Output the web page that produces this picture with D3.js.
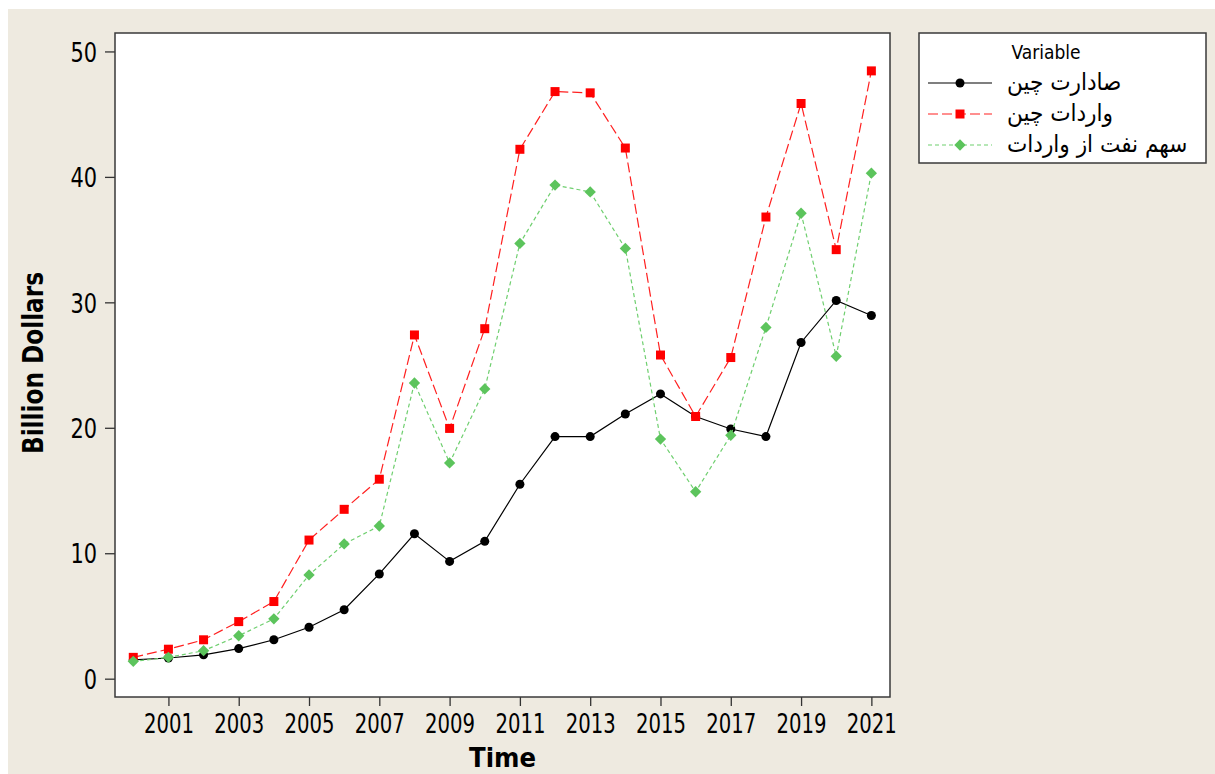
<!DOCTYPE html>
<html lang="en">

<head>
    <meta charset="UTF-8">
    <title>China trade</title>
    <script src="https://d3js.org/d3.v7.min.js"></script>
    <style>
        body { margin: 0; background: #ffffff; }
        text { font-family: "DejaVu Sans Condensed", "DejaVu Sans", sans-serif; fill: #000; }
    </style>
</head>

<body>
    <script>
        let width = 1215;
        let height = 774;

        // data (billion dollars)
        let years = [2000, 2001, 2002, 2003, 2004, 2005, 2006, 2007, 2008, 2009, 2010,
            2011, 2012, 2013, 2014, 2015, 2016, 2017, 2018, 2019, 2020, 2021];
        let exportsChina = [1.5, 1.65, 1.9, 2.4, 3.1, 4.1, 5.5, 8.35, 11.55, 9.35, 10.95,
            15.5, 19.3, 19.3, 21.1, 22.7, 20.9, 19.9, 19.3, 26.8, 30.15, 28.95];
        let importsChina = [1.7, 2.35, 3.1, 4.55, 6.15, 11.05, 13.5, 15.9, 27.4, 19.95, 27.9,
            42.2, 46.8, 46.7, 42.3, 25.8, 20.9, 25.6, 36.8, 45.85, 34.2, 48.45];
        let oilShare = [1.38, 1.7, 2.23, 3.42, 4.77, 8.27, 10.74, 12.17, 23.57, 17.2, 23.1,
            34.7, 39.35, 38.8, 34.3, 19.1, 14.9, 19.4, 28.0, 37.1, 25.7, 40.3];
        let xTicks = [2001, 2003, 2005, 2007, 2009, 2011, 2013, 2015, 2017, 2019, 2021];
        let yTicks = [0, 10, 20, 30, 40, 50];
        let seriesNames = ["صادارت چین", "واردات چین", "سهم نفت از واردات"];

        let svg = d3.select("body")
            .append("svg")
            .attr("width", width)
            .attr("height", height);

        // page background with white strip on top / left
        svg.append("rect").attr("width", width).attr("height", height).attr("fill", "#ffffff");
        svg.append("rect").attr("x", 8).attr("y", 9).attr("width", width - 8).attr("height", height - 9)
            .attr("fill", "#eeeae0");

        let pL = 115, pR = 890, pT = 33, pB = 697;

        let x = d3.scaleLinear().domain([1999.48, 2021.53]).range([pL, pR]);
        let y = d3.scaleLinear().domain([-1.46, 51.47]).range([pB, pT]);

        // plot area
        svg.append("rect")
            .attr("x", pL).attr("y", pT)
            .attr("width", pR - pL).attr("height", pB - pT)
            .attr("fill", "#ffffff");

        // axes
        let xAxis = svg.append("g")
            .attr("transform", `translate(0,${pB})`)
            .call(d3.axisBottom(x).tickValues(xTicks).tickFormat(d3.format("d")).tickSize(9).tickSizeOuter(0));
        xAxis.select(".domain").remove();
        xAxis.selectAll("line").attr("stroke", "#333").attr("stroke-width", 1.3);
        xAxis.selectAll("text")
            .attr("y", 36).attr("dy", null)
            .attr("font-size", 27)
            .attr("textLength", 50)
            .attr("lengthAdjust", "spacingAndGlyphs")
            .attr("fill", "#000");

        let yAxis = svg.append("g")
            .attr("transform", `translate(${pL},0)`)
            .call(d3.axisLeft(y).tickValues(yTicks).tickSize(10).tickSizeOuter(0));
        yAxis.select(".domain").remove();
        yAxis.selectAll("line").attr("stroke", "#333").attr("stroke-width", 1.3);
        yAxis.selectAll("text")
            .attr("x", -18).attr("dy", "0.36em")
            .attr("font-size", 27)
            .attr("textLength", d => String(d).length * 13.3)
            .attr("lengthAdjust", "spacingAndGlyphs")
            .attr("fill", "#000");

        // frame
        svg.append("rect")
            .attr("x", pL).attr("y", pT)
            .attr("width", pR - pL).attr("height", pB - pT)
            .attr("fill", "none")
            .attr("stroke", "#3a3a3a")
            .attr("stroke-width", 1.5);

        // axis titles
        svg.append("text")
            .attr("x", (pL + pR) / 2).attr("y", 767)
            .attr("text-anchor", "middle")
            .attr("font-size", 26).attr("font-weight", "bold")
            .attr("textLength", 67).attr("lengthAdjust", "spacingAndGlyphs")
            .text("Time");

        svg.append("text")
            .attr("transform", "translate(43,363) rotate(-90)")
            .attr("text-anchor", "middle")
            .attr("font-size", 28).attr("font-weight", "bold")
            .attr("textLength", 182).attr("lengthAdjust", "spacingAndGlyphs")
            .text("Billion Dollars");

        let series = [
            { name: seriesNames[0], values: exportsChina, color: "#000000", line: "#000000", dash: null, shape: d3.symbolCircle, size: 64, rot: 0 },
            { name: seriesNames[1], values: importsChina, color: "#ff0000", line: "#ff2020", dash: "10,4", shape: d3.symbolSquare, size: 81, rot: 0 },
            { name: seriesNames[2], values: oilShare, color: "#5cc45c", line: "#6fcf6f", dash: "4,3", shape: d3.symbolSquare, size: 64, rot: 45 }
        ];

        let line = d3.line()
            .x((d, i) => x(years[i]))
            .y(d => y(d));

        series.forEach(s => {
            svg.append("path")
                .datum(s.values)
                .attr("d", line)
                .attr("fill", "none")
                .attr("stroke", s.line)
                .attr("stroke-width", 1.2)
                .attr("stroke-dasharray", s.dash);

            svg.selectAll(null)
                .data(s.values)
                .enter()
                .append("path")
                .attr("d", d3.symbol().type(s.shape).size(s.size))
                .attr("transform", (d, i) => `translate(${x(years[i])},${y(d)}) rotate(${s.rot})`)
                .attr("fill", s.color);
        });

        // legend
        let lg = svg.append("g");
        lg.append("rect")
            .attr("x", 919).attr("y", 33)
            .attr("width", 287).attr("height", 130)
            .attr("fill", "#ffffff")
            .attr("stroke", "#3a3a3a")
            .attr("stroke-width", 1.5);
        lg.append("text")
            .attr("x", 1046).attr("y", 59)
            .attr("text-anchor", "middle")
            .attr("font-family", "DejaVu Sans")
            .attr("font-size", 19)
            .text("Variable");

        series.forEach((s, i) => {
            let ly = 83 + i * 31;
            lg.append("line")
                .attr("x1", 928).attr("x2", 992)
                .attr("y1", ly).attr("y2", ly)
                .attr("stroke", s.line)
                .attr("stroke-width", 1.2)
                .attr("stroke-dasharray", s.dash);
            lg.append("path")
                .attr("d", d3.symbol().type(s.shape).size(s.size))
                .attr("transform", `translate(960,${ly}) rotate(${s.rot})`)
                .attr("fill", s.color);
            lg.append("text")
                .attr("x", 1007).attr("y", ly + 7)
                .attr("font-family", "DejaVu Sans")
                .attr("font-size", 24)
                .text(s.name);
        });
    </script>
</body>

</html>
